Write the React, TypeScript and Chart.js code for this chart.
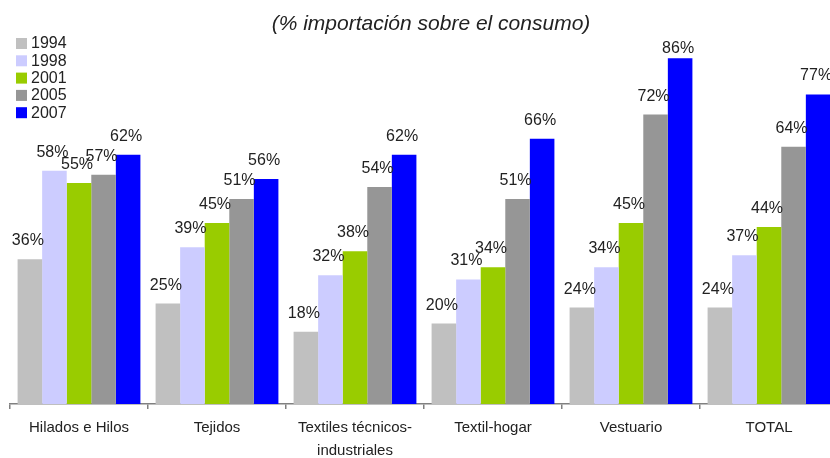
import React, { useEffect, useRef } from "react";
import { Chart, registerables } from "chart.js";

Chart.register(...registerables);

const categories: (string | string[])[] = [
  "Hilados e Hilos",
  "Tejidos",
  ["Textiles técnicos-", "industriales"],
  "Textil-hogar",
  "Vestuario",
  "TOTAL",
];
const seriesNames = ["1994", "1998", "2001", "2005", "2007"];
const v1994 = [36, 25, 18, 20, 24, 24];
const v1998 = [58, 39, 32, 31, 34, 37];
const v2001 = [55, 45, 38, 34, 45, 44];
const v2005 = [57, 51, 54, 51, 72, 64];
const v2007 = [62, 56, 62, 66, 86, 77];
const seriesValues = [v1994, v1998, v2001, v2005, v2007];
const colors = ["#C0C0C0", "#CCCCFF", "#99CC00", "#969696", "#0000FF"];
const titleText = "(% importación sobre el consumo)";

const FONT = "'Liberation Sans', Arial, sans-serif";

const overlayPlugin = {
  id: "overlay",
  afterDatasetsDraw(chart: any) {
    const ctx = chart.ctx;
    ctx.save();
    ctx.font = `16px ${FONT}`;
    ctx.fillStyle = "#222";
    ctx.textAlign = "center";
    ctx.textBaseline = "alphabetic";
    chart.data.datasets.forEach((ds: any, di: number) => {
      const meta = chart.getDatasetMeta(di);
      meta.data.forEach((el: any, i: number) => {
        const y = Math.max(el.y - 14, 53);
        ctx.fillText(`${ds.data[i]}%`, el.x - 2, y);
      });
    });
    // title
    ctx.font = `italic 21px ${FONT}`;
    ctx.fillStyle = "#222";
    ctx.textAlign = "center";
    ctx.textBaseline = "middle";
    ctx.fillText(titleText, 431, 24);
    // legend
    ctx.font = `16px ${FONT}`;
    ctx.textAlign = "left";
    seriesNames.forEach((n, i) => {
      const cy = 44 + i * 17.3;
      ctx.fillStyle = colors[i];
      ctx.fillRect(16, cy - 6, 11, 11);
      ctx.fillStyle = "#222";
      ctx.fillText(n, 31, cy);
    });
    ctx.restore();
  },
};

export default function App() {
  const ref = useRef<HTMLCanvasElement>(null);
  useEffect(() => {
    if (!ref.current) return;
    const chart = new Chart(ref.current, {
      type: "bar",
      data: {
        labels: categories,
        datasets: seriesNames.map((n, i) => ({
          label: n,
          data: seriesValues[i],
          backgroundColor: colors[i],
          borderWidth: 0,
          barPercentage: 1,
          categoryPercentage: 0.89,
        })),
      },
      options: {
        responsive: false,
        animation: false,
        layout: { padding: { left: 10, right: 0, top: 2, bottom: 0 } },
        plugins: {
          legend: { display: false },
          title: { display: false },
          tooltip: { enabled: false },
        },
        scales: {
          x: {
            afterFit: (scale: any) => {
              scale.height = 54;
            },
            border: { display: true, color: "#808080", width: 1.5 },
            grid: {
              display: true,
              offset: true,
              drawOnChartArea: false,
              drawTicks: true,
              tickLength: 5,
              color: "#808080",
              lineWidth: 1.5,
            },
            ticks: {
              color: "#222",
              font: { family: FONT, size: 15, lineHeight: 1.53 },
              padding: 7,
              maxRotation: 0,
              autoSkip: false,
            },
          },
          y: {
            display: false,
            min: 0,
            max: 100,
          },
        },
      },
      plugins: [overlayPlugin],
    });
    return () => chart.destroy();
  }, []);
  return (
    <div
      style={{
        position: "fixed",
        left: 0,
        top: 0,
        width: 830,
        height: 458,
        overflow: "hidden",
        background: "#fff",
      }}
    >
      <canvas ref={ref} width={838} height={458} style={{ width: 838, height: 458, display: "block" }} />
    </div>
  );
}
